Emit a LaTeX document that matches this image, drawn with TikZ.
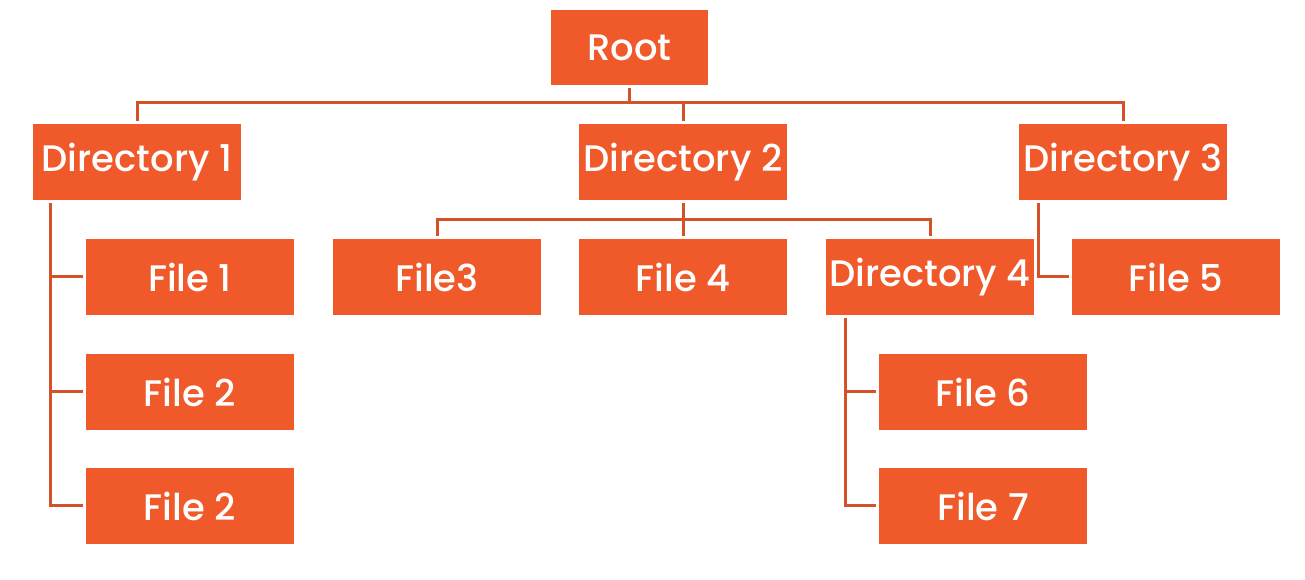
\documentclass[tikz,border=0pt]{standalone}
\usepackage{fontspec}
\setmainfont{Poppins}[UprightFont=* Medium]
\usetikzlibrary{positioning, calc}
\definecolor{boxorange}{HTML}{F05A2B}
\definecolor{lineorange}{HTML}{D4522A}
\begin{document}
\begin{tikzpicture}[
  x=0.02cm, y=-0.02cm,
  item/.style={fill=boxorange, text=white, minimum width=4.16cm, minimum height=1.52cm,
    inner sep=0pt, outer sep=0.07cm, font=\fontsize{21}{24}\selectfont},
  link/.style={draw=lineorange, line width=0.06cm}
]
  \useasboundingbox (0,0) rectangle (1305,580);

  \node[item, minimum width=3.14cm, minimum height=1.5cm] (root) at (629.5,47.5) {Root};
  \node[item] (dir1) at (137,162) {Directory 1};
  \node[item] (dir2) at (683,162) {Directory 2};
  \node[item] (dir3) at (1123,162) {Directory 3};

  \node[item] (file1)  at (190,277) {File 1};
  \node[item] (file2)  at (190,392) {File 2};
  \node[item] (file2b) at (190,506) {File 2};
  \node[item] (file3)  at (437,277) {File3};
  \node[item] (file4)  at (683,277) {File 4};
  \node[item] (dir4)   at (930,277) {Directory 4};
  \node[item] (file5)  at (1176,277) {File 5};
  \node[item] (file6)  at (983,392) {File 6};
  \node[item] (file7)  at (983,506) {File 7};

  \coordinate (rootbar) at (629.5,103);
  \coordinate (dirbar) at (683,220);

  \draw[link] (dir1.north) |- (rootbar) -| (dir3.north);
  \draw[link] (root.south) -- (rootbar);
  \draw[link] (dir2.north) -- (dir2.north |- rootbar);

  \draw[link] ([xshift=0.42cm]dir1.south west) |- (file1.west);
  \draw[link] ([xshift=0.42cm]dir1.south west) |- (file2.west);
  \draw[link] ([xshift=0.42cm]dir1.south west) |- (file2b.west);

  \draw[link] (file3.north) |- (dirbar) -| (dir4.north);
  \draw[link] (dir2.south) -- (file4.north);

  \draw[link] ([xshift=0.45cm]dir3.south west) |- (file5.west);

  \draw[link] ([xshift=0.45cm]dir4.south west) |- (file6.west);
  \draw[link] ([xshift=0.45cm]dir4.south west) |- (file7.west);
\end{tikzpicture}
\end{document}
